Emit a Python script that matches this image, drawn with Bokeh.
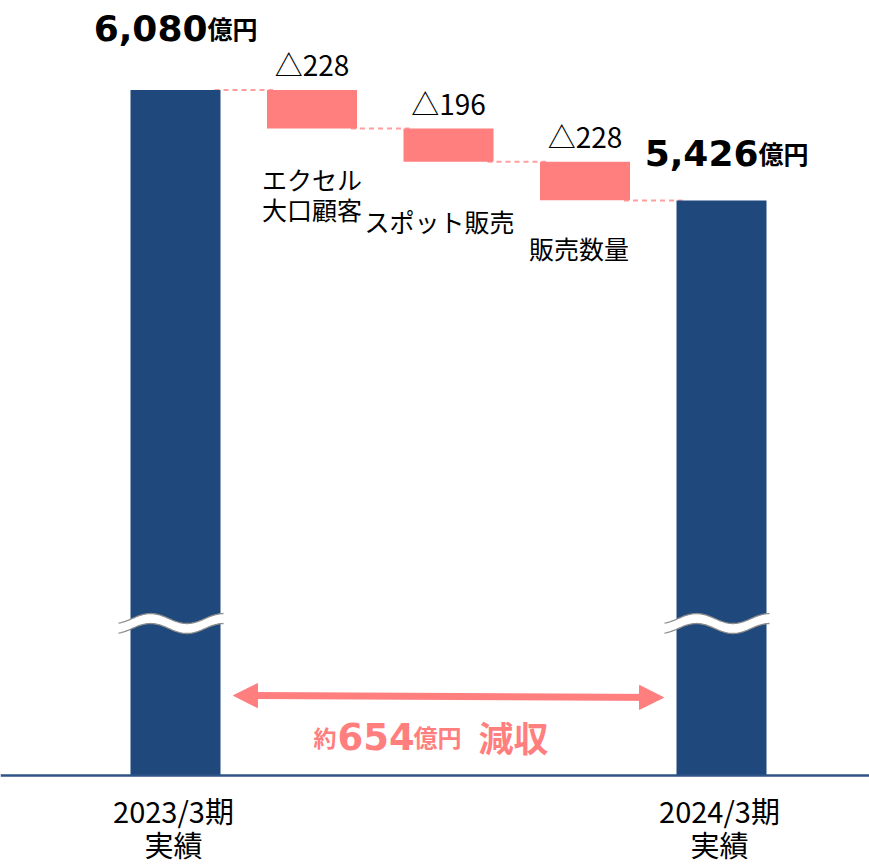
import numpy as np
from bokeh.plotting import figure
from bokeh.models import Range1d, Arrow, NormalHead, Span, ColumnDataSource
from bokeh.core.properties import value
from bokeh.embed import file_html
from bokeh.resources import INLINE

# ---------------- data ----------------
total_labels = ["2023/3期\n実績", "2024/3期\n実績"]
start_value = 6080
end_value = 5426
step_names = ["エクセル\n大口顧客", "スポット販売", "販売数量"]
step_decreases = [228, 196, 228]
step_texts = ["△228", "△196", "△228"]
total_change = 654

# ---------------- layout constants ----------------
W, H = 869, 865
X0, DX = 175.0, 136.5          # px of first bar centre, px between bar slots
SCALE = 110.5 / 654.0          # px per value unit
Y_TOP = 6080 + 89.5 / SCALE    # value at top edge
BASE_PX = 775                  # px of broken-axis floor
BASE = Y_TOP - BASE_PX / SCALE
BAR_W = 90 / DX

NAVY = "#1F497D"
PINK = "#FF7F7F"
DASH = "#FF9E9E"
JP = "Noto Sans CJK JP"
NUM = "DejaVu Sans"


def dy(px):
    return px / SCALE


def dx(px):
    return px / DX


p = figure(width=W, height=H,
           x_range=Range1d(-X0 / DX, (W - X0) / DX),
           y_range=Range1d(Y_TOP - H / SCALE, Y_TOP),
           output_backend="svg", toolbar_location=None,
           x_axis_location=None, y_axis_location=None,
           min_border=0, outline_line_color=None)
p.grid.visible = False
p.background_fill_color = "white"

# ---------------- bars ----------------
n_steps = len(step_decreases)
total_x = [0, n_steps + 1]
total_tops = [start_value, end_value]
p.vbar(x=total_x, top=total_tops, bottom=BASE, width=BAR_W,
       fill_color=NAVY, line_color=None)

levels = [start_value]
for d in step_decreases:
    levels.append(levels[-1] - d)
step_x = list(range(1, n_steps + 1))
step_src = ColumnDataSource(dict(x=step_x, top=levels[:-1], bottom=levels[1:]))
p.vbar(x="x", top="top", bottom="bottom", width=BAR_W, source=step_src,
       fill_color=PINK, line_color=None)

# connectors
conn_levels = levels[:-1] + [end_value]
x0s = [i + BAR_W / 2 - dx(6) for i in range(0, n_steps + 1)]
x1s = [i + 1 - BAR_W / 2 + dx(6) for i in range(0, n_steps + 1)]
p.segment(x0=x0s, y0=conn_levels, x1=x1s, y1=conn_levels,
          line_color=DASH, line_width=2, line_dash="5 4", level="underlay")

# axis-break waves
for xi in total_x:
    rel = np.linspace(-57, 48, 80)
    up_px = 618 - 5 * np.cos(2 * np.pi * (rel + 25) / 73.0)
    lo_px = up_px + 10
    xs = xi + rel / DX
    ys_up = BASE + (BASE_PX - up_px) / SCALE
    ys_lo = BASE + (BASE_PX - lo_px) / SCALE
    p.patch(x=np.concatenate([xs, xs[::-1]]),
            y=np.concatenate([ys_up, ys_lo[::-1]]),
            fill_color="white", line_color=None)
    p.line(x=xs, y=ys_up, line_color="#8C8C8C", line_width=1.3)
    p.line(x=xs, y=ys_lo, line_color="#8C8C8C", line_width=1.3)

# baseline
p.add_layout(Span(location=BASE, dimension="width", line_color="#2E5387", line_width=2.5))

# ---------------- value labels ----------------
def total_label(xc, val, rise_px):
    p.text(x=[xc], y=[val + dy(rise_px)], text=[f"{val:,}"],
           text_font=value(NUM), text_font_style="bold", text_font_size="36px",
           text_align="right", text_baseline="alphabetic", text_color="black")
    p.text(x=[xc], y=[val + dy(rise_px)], text=["億円"],
           text_font=value(JP), text_font_style="bold", text_font_size="25px",
           text_align="left", text_baseline="alphabetic", text_color="black")


total_label(0 + dx(32), start_value, 62)
total_label(n_steps + 1 + dx(37), end_value, 48)

# step change labels
p.text(x=step_x, y=[t + dy(26) for t in levels[:-1]], text=step_texts,
       text_font=value(JP), text_font_size="28px",
       text_align="center", text_baseline="alphabetic", text_color="black")

# step category labels
gap_px = [50, 59, 48]
name_dx_px = [0, -9, -6]
for i, name in enumerate(step_names):
    lines = name.split("\n")
    for j, ln in enumerate(lines):
        p.text(x=[step_x[i] + dx(name_dx_px[i])], y=[levels[i + 1] - dy(gap_px[i] + 30 * j)],
               text=[ln], text_font=value(JP), text_font_size="25px",
               text_align="center", text_baseline="middle", text_color="black")

# category labels under totals
for xi, lab in zip(total_x, total_labels):
    for j, ln in enumerate(lab.split("\n")):
        p.text(x=[xi - dx(2)], y=[BASE - dy(34 + 34 * j)], text=[ln],
               text_font=value(JP), text_font_size="29px",
               text_align="center", text_baseline="middle", text_color="black")

# ---------------- total change arrow & label ----------------
mid = (n_steps + 1) / 2.0
head_kw = dict(size=24, fill_color=PINK, line_color=PINK)
p.add_layout(Arrow(x_start=0 + dx(58), y_start=BASE + dy(80),
                   x_end=n_steps + 1 - dx(58), y_end=BASE + dy(78),
                   start=NormalHead(**head_kw), end=NormalHead(**head_kw),
                   line_color=PINK, line_width=7))

yb = BASE + dy(39)
p.text(x=[mid - dx(135)], y=[yb], text=["約"], text_font=value(JP), text_font_style="bold",
       text_font_size="23px", text_align="left", text_baseline="alphabetic", text_color=PINK)
p.text(x=[mid - dx(111)], y=[yb], text=[f"{total_change}"], text_font=value(NUM),
       text_font_style="bold", text_font_size="37px", text_align="left",
       text_baseline="alphabetic", text_color=PINK)
p.text(x=[mid - dx(35)], y=[yb], text=["億円"], text_font=value(JP), text_font_style="bold",
       text_font_size="24px", text_align="left", text_baseline="alphabetic", text_color=PINK)
p.text(x=[mid + dx(30)], y=[yb], text=["減収"], text_font=value(JP), text_font_style="bold",
       text_font_size="35px", text_align="left", text_baseline="alphabetic", text_color=PINK)

open("out.html", "w").write(file_html(p, INLINE))
